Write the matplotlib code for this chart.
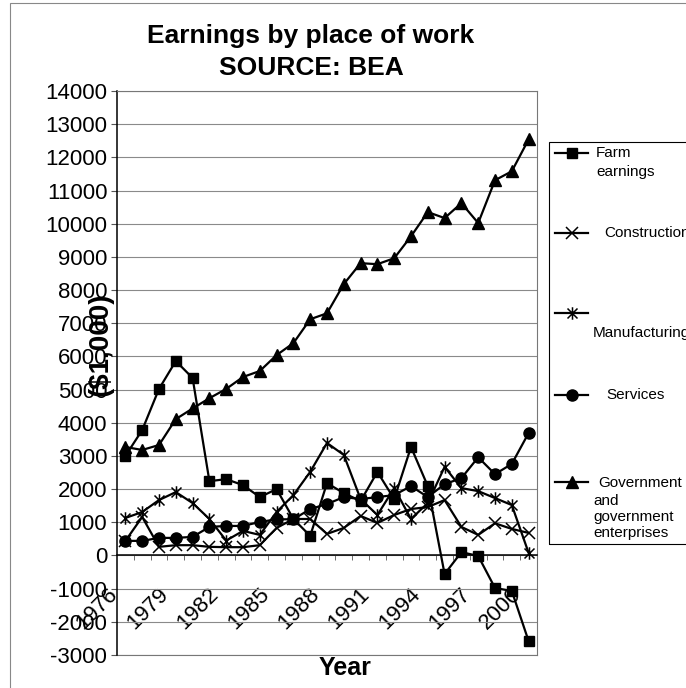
import matplotlib
matplotlib.use("Agg")
import matplotlib.pyplot as plt
from matplotlib.path import Path
from matplotlib.lines import Line2D
from matplotlib.patches import Rectangle
from matplotlib.transforms import ScaledTranslation

plt.rcParams['font.family'] = ['Liberation Sans', 'DejaVu Sans']
plt.rcParams['axes.unicode_minus'] = False

years = ['1976', '1977', '1978', '1979', '1980', '1981', '1982', '1983', '1984',
         '1985', '1986', '1987', '1988', '1989', '1990', '1991', '1992', '1993',
         '1994', '1995', '1996', '1997', '1998', '1999', '2000']

farm = [3000, 3780, 5020, 5860, 5350, 2240, 2300, 2120, 1760, 2000, 1100, 590,
        2180, 1880, 1640, 2520, 1700, 3270, 2090, -560, 100, -15, -980, -1070, -2580]
construction = [440, 1160, 260, 310, 310, 260, 250, 250, 310, 830, 1100, 1100,
                650, 830, 1190, 980, 1220, 1400, 1460, 1670, 860, 620, 970, 800, 680]
manufacturing = [1130, 1310, 1670, 1910, 1580, 1100, 450, 740, 620, 1310, 1820, 2520,
                 3390, 3030, 1700, 1220, 2030, 1100, 1580, 2670, 2030, 1940, 1730, 1520, 80]
services = [440, 440, 530, 530, 560, 860, 890, 890, 1010, 1090, 1090, 1400,
            1550, 1760, 1700, 1760, 1820, 2090, 1760, 2150, 2330, 2960, 2450, 2760, 3690]
government = [3270, 3180, 3330, 4110, 4430, 4740, 5020, 5380, 5560, 6040, 6400, 7120,
              7300, 8180, 8810, 8780, 8960, 9620, 10350, 10170, 10620, 10020, 11310, 11580, 12540]

labels = ['Farm earnings', 'Construction', 'Manufacturing', 'Services',
          'Government and government enterprises']

W, H = 686, 688
fig = plt.figure(figsize=(W / 100, H / 100), dpi=100)

def fx(px):
    return px / W

def fy(py):
    return 1 - py / H

# excel-like star marker (x plus vertical bar)
star = Path([(-1, -1), (1, 1), (-1, 1), (1, -1), (0, -1.25), (0, 1.25)],
            [Path.MOVETO, Path.LINETO, Path.MOVETO, Path.LINETO, Path.MOVETO, Path.LINETO])

styles = [
    dict(marker='s', ms=7.5),
    dict(marker='x', ms=8, mew=1.1),
    dict(marker=star, ms=9, mew=1.1),
    dict(marker='o', ms=8),
    dict(marker='^', ms=9),
]
series = [farm, construction, manufacturing, services, government]

ax = fig.add_axes([fx(117), fy(655), (537 - 117) / W, (655 - 91) / H])
xs = list(range(len(years)))
for vals, st in zip(series, styles):
    ax.plot(xs, vals, color='black', lw=1.6, mfc='black', mec='black', zorder=3, **st)

ax.set_xlim(-0.5, len(years) - 0.5)
ax.set_ylim(-3000, 14000)
ax.set_yticks(list(range(-3000, 14001, 1000)))
ax.tick_params(axis='y', labelsize=16, direction='out', length=4, color='#555555', pad=3)
ax.yaxis.grid(True, color='#8a8a8a', lw=0.8)
ax.set_axisbelow(True)

# category axis at zero
ax.spines['bottom'].set_position(('data', 0))
ax.spines['bottom'].set_color('black')
ax.spines['bottom'].set_linewidth(1.1)
ax.spines['left'].set_color('black')
ax.spines['left'].set_linewidth(1.1)
for s in ('top', 'right'):
    ax.spines[s].set_color('#777777')
    ax.spines[s].set_linewidth(0.8)
ax.plot([0, 1], [0, 0], transform=ax.transAxes, color='#777777', lw=0.8, clip_on=False)

ax.set_xticks([i - 0.5 for i in range(1, len(years))], minor=True)
ax.tick_params(axis='x', which='minor', direction='out', length=3.5, color='#555555')
major = [i for i in xs if i % 3 == 0]
ax.set_xticks(major)
ax.set_xticklabels([years[i] for i in major], rotation=45, ha='right', va='top',
                   rotation_mode='anchor', fontsize=16)
ax.tick_params(axis='x', which='major', length=0, pad=0)
off = ScaledTranslation(-0.18, -0.28, fig.dpi_scale_trans)
for lab in ax.get_xticklabels():
    lab.set_transform(lab.get_transform() + off)

# titles
fig.text(fx(311), fy(36), 'Earnings by place of work', ha='center', va='center',
         fontsize=19, fontweight='bold')
fig.text(fx(311), fy(68), 'SOURCE: BEA', ha='center', va='center',
         fontsize=19, fontweight='bold')
fig.text(fx(101), fy(344), '($1,000)', ha='center', va='center', rotation=90,
         fontsize=20, fontweight='bold')
fig.text(fx(345), fy(668), 'Year', ha='center', va='center', fontsize=18, fontweight='bold')

# chart border
fig.add_artist(Rectangle((fx(10), fy(800)), 1.2, fy(3) - fy(800), transform=fig.transFigure,
                         fill=False, ec='#888888', lw=0.8))

# legend
fig.add_artist(Rectangle((fx(549), fy(544)), 0.5, fy(142) - fy(544), transform=fig.transFigure,
                         fill=False, ec='black', lw=0.8))
ly = [153, 233, 313, 395, 482]
for y, st in zip(ly, styles):
    fig.add_artist(Line2D([fx(555), fx(588)], [fy(y), fy(y)], transform=fig.transFigure,
                          color='black', lw=1.6))
    fig.add_artist(Line2D([fx(571.5)], [fy(y)], transform=fig.transFigure,
                          color='black', lw=0, mfc='black', mec='black', **st))

lf = 11
fig.text(fx(596), fy(153), 'Farm', va='center', fontsize=lf)
fig.text(fx(596), fy(172), 'earnings', va='center', fontsize=lf)
fig.text(fx(604), fy(233), 'Construction', va='center', fontsize=lf)
fig.text(fx(593), fy(333), 'Manufacturing', va='center', fontsize=lf)
fig.text(fx(606), fy(395), 'Services', va='center', fontsize=lf)
fig.text(fx(598), fy(483), 'Government', va='center', fontsize=lf)
fig.text(fx(593), fy(501), 'and', va='center', fontsize=lf)
fig.text(fx(593), fy(517), 'government', va='center', fontsize=lf)
fig.text(fx(593), fy(533), 'enterprises', va='center', fontsize=lf)

fig.savefig('out.png', dpi=100)
